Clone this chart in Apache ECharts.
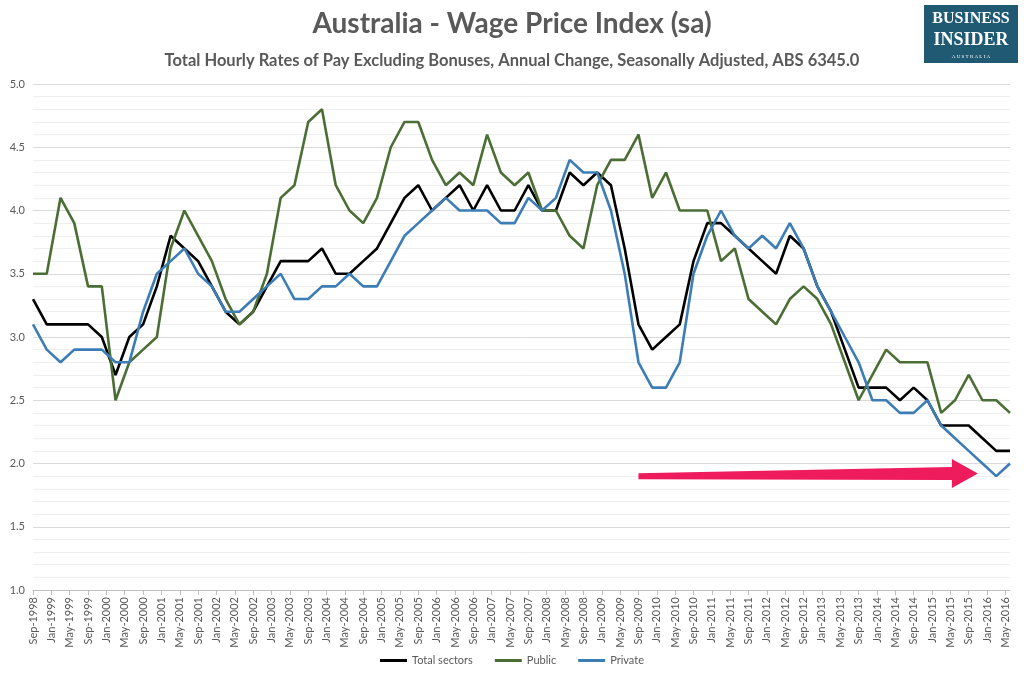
<!DOCTYPE html>
<html>
<head>
<meta charset="utf-8">
<script src="https://cdn.jsdelivr.net/npm/echarts@6/dist/echarts.min.js"></script>
<style>
html,body{margin:0;padding:0;background:#fff;}
#chart{width:1024px;height:680px;}
</style>
</head>
<body>
<div id="chart"></div>
<script>
// Quarterly observations: Sep-1998 ... Jun-2016
const firstYear = 1998;
const firstMonth = 8; // 0-based, Sep
const monthNames = ['Jan','Feb','Mar','Apr','May','Jun','Jul','Aug','Sep','Oct','Nov','Dec'];
const monthCount = 214; // Sep-1998 .. Jun-2016
const quarterStep = 3;

const totalSectors = [3.3,3.1,3.1,3.1,3.1,3.0,2.7,3.0,3.1,3.4,3.8,3.7,3.6,3.4,3.2,3.1,3.2,3.4,3.6,3.6,
  3.6,3.7,3.5,3.5,3.6,3.7,3.9,4.1,4.2,4.0,4.1,4.2,4.0,4.2,4.0,4.0,4.2,4.0,4.0,4.3,
  4.2,4.3,4.2,3.7,3.1,2.9,3.0,3.1,3.6,3.9,3.9,3.8,3.7,3.6,3.5,3.8,3.7,3.4,3.2,2.9,
  2.6,2.6,2.6,2.5,2.6,2.5,2.3,2.3,2.3,2.2,2.1,2.1];
const publicSector = [3.5,3.5,4.1,3.9,3.4,3.4,2.5,2.8,2.9,3.0,3.7,4.0,3.8,3.6,3.3,3.1,3.2,3.5,4.1,4.2,
  4.7,4.8,4.2,4.0,3.9,4.1,4.5,4.7,4.7,4.4,4.2,4.3,4.2,4.6,4.3,4.2,4.3,4.0,4.0,3.8,
  3.7,4.2,4.4,4.4,4.6,4.1,4.3,4.0,4.0,4.0,3.6,3.7,3.3,3.2,3.1,3.3,3.4,3.3,3.1,2.8,
  2.5,2.7,2.9,2.8,2.8,2.8,2.4,2.5,2.7,2.5,2.5,2.4];
const privateSector = [3.1,2.9,2.8,2.9,2.9,2.9,2.8,2.8,3.2,3.5,3.6,3.7,3.5,3.4,3.2,3.2,3.3,3.4,3.5,3.3,
  3.3,3.4,3.4,3.5,3.4,3.4,3.6,3.8,3.9,4.0,4.1,4.0,4.0,4.0,3.9,3.9,4.1,4.0,4.1,4.4,
  4.3,4.3,4.0,3.5,2.8,2.6,2.6,2.8,3.5,3.8,4.0,3.8,3.7,3.8,3.7,3.9,3.7,3.4,3.2,3.0,
  2.8,2.5,2.5,2.4,2.4,2.5,2.3,2.2,2.1,2.0,1.9,2.0];

const seriesNames = ['Total sectors','Public','Private'];
const yTicks = [1.0,1.5,2.0,2.5,3.0,3.5,4.0,4.5,5.0];

const titleText = 'Australia - Wage Price Index (sa)';
const subtitleText = 'Total Hourly Rates of Pay Excluding Bonuses, Annual Change, Seasonally Adjusted, ABS 6345.0';

// annotation arrow (category, value)
const arrowFrom = ['Sep-2009', 1.90];
const arrowTo = ['Nov-2015', 1.92];

// monthly category axis
const months = [];
for (let k = 0; k < monthCount; k++) {
  const m = (firstMonth + k) % 12;
  const y = firstYear + Math.floor((firstMonth + k) / 12);
  months.push(monthNames[m] + '-' + y);
}
function spread(values) {
  const out = new Array(monthCount).fill(null);
  values.forEach((v, i) => { out[i * quarterStep] = v; });
  return out;
}

const FONT = 'Lato, "Open Sans", sans-serif';
const chart = echarts.init(document.getElementById('chart'), null, {renderer: 'canvas'});

const option = {
  backgroundColor: '#ffffff',
  animation: false,
  title: [
    {text: titleText, left: 'center', top: 5,
     textStyle: {fontFamily: FONT, fontSize: 28, fontWeight: 'bold', color: '#595959'}},
    {text: subtitleText, left: 'center', top: 47,
     textStyle: {fontFamily: FONT, fontSize: 16.5, fontWeight: 'bold', color: '#595959'}}
  ],
  legend: {
    bottom: 9, left: 'center',
    icon: 'rect', itemWidth: 27, itemHeight: 3, itemGap: 22,
    textStyle: {fontFamily: FONT, fontSize: 11, color: '#595959'},
    data: seriesNames
  },
  grid: {left: 33, right: 14, top: 84, bottom: 90, containLabel: false},
  xAxis: {
    type: 'category',
    data: months,
    boundaryGap: false,
    axisLine: {show: true, lineStyle: {color: '#bfbfbf', width: 1}},
    axisTick: {show: true, interval: 3, length: 5, lineStyle: {color: '#bfbfbf'}},
    axisLabel: {interval: 3, rotate: 90, fontFamily: FONT, fontSize: 11, color: '#595959', margin: 7},
    splitLine: {show: false}
  },
  yAxis: {
    type: 'value',
    min: 1.0, max: 5.0, interval: 0.5,
    axisLine: {show: false},
    axisTick: {show: false},
    axisLabel: {fontFamily: FONT, fontSize: 11, color: '#595959', margin: 8,
      formatter: v => v.toFixed(1)},
    splitLine: {show: true, lineStyle: {color: '#d9d9d9', width: 1}},
    minorTick: {show: false, splitNumber: 5},
    minorSplitLine: {show: true, lineStyle: {color: '#efefef', width: 1}}
  },
  series: [
    {name: seriesNames[0], type: 'line', data: spread(totalSectors), connectNulls: true,
     showSymbol: false, symbol: 'none', lineStyle: {color: '#000000', width: 2.6}, itemStyle: {color: '#000000'}},
    {name: seriesNames[1], type: 'line', data: spread(publicSector), connectNulls: true,
     showSymbol: false, symbol: 'none', lineStyle: {color: '#4b6e35', width: 2.6}, itemStyle: {color: '#4b6e35'}},
    {name: seriesNames[2], type: 'line', data: spread(privateSector), connectNulls: true,
     showSymbol: false, symbol: 'none', lineStyle: {color: '#3d7db6', width: 2.6}, itemStyle: {color: '#3d7db6'}}
  ]
};
chart.setOption(option);

// arrow annotation + logo
const p0 = chart.convertToPixel({gridIndex: 0}, arrowFrom);
const p1 = chart.convertToPixel({gridIndex: 0}, arrowTo);
const headLen = 26, headHalf = 14.5, shaftStartHalf = 3, shaftEndHalf = 6.5;
const hx = p1[0] - headLen;
const hy = p1[1];
const arrowPts = [
  [p0[0], p0[1] - shaftStartHalf],
  [hx, hy - shaftEndHalf],
  [hx, hy - headHalf],
  [p1[0], p1[1]],
  [hx, hy + headHalf],
  [hx, hy + shaftEndHalf],
  [p0[0], p0[1] + shaftStartHalf]
];

chart.setOption({
  graphic: [
    {type: 'polygon', shape: {points: arrowPts}, style: {fill: '#ee1c5c'}, z: 100},
    {type: 'group', left: 924, top: 5, children: [
      {type: 'rect', shape: {x: 0, y: 0, width: 94, height: 58}, style: {fill: '#1f5a72'}},
      {type: 'text', x: 47, y: 14, style: {text: 'BUSINESS', fill: '#ffffff', font: 'bold 16px "Liberation Serif", "DejaVu Serif", serif', align: 'center', verticalAlign: 'middle'}},
      {type: 'text', x: 47, y: 35, style: {text: 'INSIDER', fill: '#ffffff', font: 'bold 18px "Liberation Serif", "DejaVu Serif", serif', align: 'center', verticalAlign: 'middle'}},
      {type: 'text', x: 47, y: 52, style: {text: 'A U S T R A L I A', fill: '#ffffff', font: '5px "Liberation Serif", serif', align: 'center', verticalAlign: 'middle'}}
    ]}
  ]
});
</script>
</body>
</html>
